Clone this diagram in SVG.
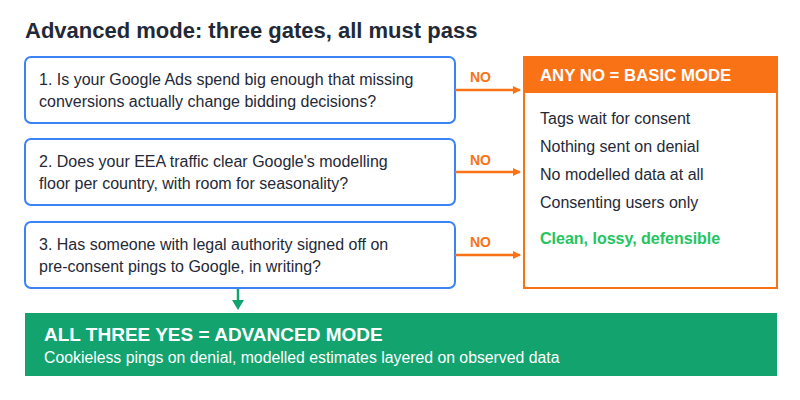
<svg xmlns="http://www.w3.org/2000/svg" width="800" height="400" viewBox="0 0 800 400">
<defs>
<style>
text{font-family:"Liberation Sans",Arial,sans-serif}
.q{fill:#fff;stroke:#3b82f6;stroke-width:2}
.qt{font-size:16px;fill:#1f2937}
.no{font-size:14px;font-weight:bold;fill:#f97316}
.na{stroke:#f97316;stroke-width:2.5;fill:none}
.it{font-size:16px;fill:#1f2937}
</style>
<marker id="ao" markerWidth="8" markerHeight="8" refX="7" refY="4" orient="auto" markerUnits="userSpaceOnUse"><path d="M0,0 L8,4 L0,8 z" fill="#f97316"/></marker>
</defs>
<rect width="800" height="400" fill="#fff"/>
<text x="25" y="38" font-size="22" font-weight="bold" fill="#1f2937">Advanced mode: three gates, all must pass</text>
<g id="q1"><rect class="q" x="25" y="57" width="430" height="66" rx="6"/>
<text class="qt" x="39" y="85">1. Is your Google Ads spend big enough that missing</text>
<text class="qt" x="39" y="107">conversions actually change bidding decisions?</text></g>
<g id="q2"><rect class="q" x="25" y="139" width="430" height="66" rx="6"/>
<text class="qt" x="39" y="167">2. Does your EEA traffic clear Google's modelling</text>
<text class="qt" x="39" y="189">floor per country, with room for seasonality?</text></g>
<g id="q3"><rect class="q" x="25" y="222" width="430" height="66" rx="6"/>
<text class="qt" x="39" y="250">3. Has someone with legal authority signed off on</text>
<text class="qt" x="39" y="272">pre-consent pings to Google, in writing?</text></g>
<g id="basic">
<rect x="524" y="57" width="253" height="231" fill="#fff" stroke="#f97316" stroke-width="2"/>
<rect x="524" y="57" width="253" height="36" fill="#f97316"/>
<text x="540" y="81" font-size="16.8" font-weight="bold" fill="#fff">ANY NO = BASIC MODE</text>
<text class="it" x="540" y="124">Tags wait for consent</text>
<text class="it" x="540" y="152">Nothing sent on denial</text>
<text class="it" x="540" y="180">No modelled data at all</text>
<text class="it" x="540" y="208">Consenting users only</text>
<text x="540" y="244" font-size="16" font-weight="bold" fill="#22c55e">Clean, lossy, defensible</text>
</g>
<g id="advanced">
<rect x="25" y="313" width="752" height="63" fill="#12a36f"/>
<text x="44" y="341" font-size="19" font-weight="bold" fill="#fff">ALL THREE YES = ADVANCED MODE</text>
<text x="44" y="363" font-size="15.8" fill="#fff">Cookieless pings on denial, modelled estimates layered on observed data</text>
</g>
<g id="connectors">
<text class="no" x="470" y="82">NO</text>
<text class="no" x="470" y="165">NO</text>
<text class="no" x="470" y="247">NO</text>
<line class="na" x1="455" y1="90" x2="520" y2="90" marker-end="url(#ao)"/>
<line class="na" x1="455" y1="172" x2="520" y2="172" marker-end="url(#ao)"/>
<line class="na" x1="455" y1="255" x2="520" y2="255" marker-end="url(#ao)"/>
<line x1="238" y1="289" x2="238" y2="301" stroke="#12a36f" stroke-width="2.5"/>
<polygon points="232,300 244,300 238,310" fill="#12a36f"/>
</g>
</svg>
